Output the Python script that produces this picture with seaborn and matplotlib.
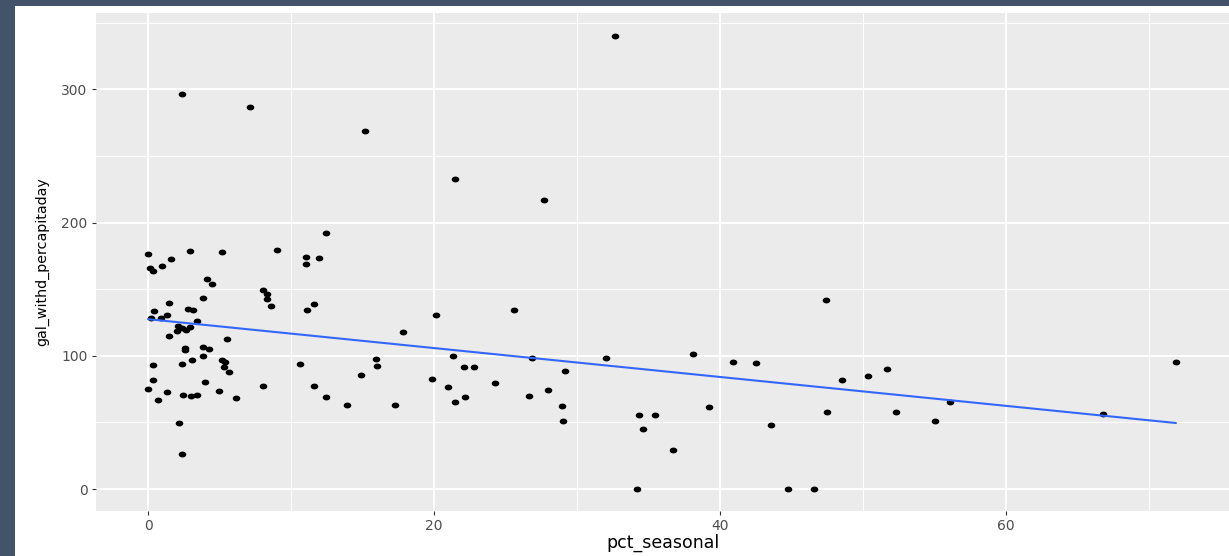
import matplotlib
matplotlib.use("Agg")
import matplotlib.pyplot as plt
from matplotlib.ticker import MultipleLocator
from matplotlib.patches import Rectangle
from matplotlib.path import Path
import numpy as np
import seaborn as sns
import pandas as pd

pct_seasonal = [
    0.0, 2.9, 5.2, 1.6, 0.14, 0.33, 0.98, 4.15, 4.5, 3.85, 1.49, 0.42, 2.78, 3.13,
    1.3, 0.89, 0.2, 3.43, 2.1, 2.36, 2.94, 2.0, 2.66, 1.49, 5.55, 2.59, 2.59, 3.83,
    4.29, 3.83, 3.1, 2.36, 0.33, 5.2, 5.38, 5.34, 5.64, 0.35, 3.96, 0.02, 1.3, 2.47,
    3.0, 3.45, 4.99, 0.68, 6.18, 2.14, 2.36, 2.36, 7.13, 15.2, 12.45, 9.02, 11.05,
    11.05, 11.98, 21.45, 8.06, 8.3, 8.3, 8.6, 11.59, 11.14, 20.16, 17.83, 21.33,
    22.08, 22.8, 15.92, 16.03, 10.63, 14.87, 19.84, 8.06, 11.59, 21.0, 12.43, 22.19,
    21.45, 13.9, 17.3, 25.57, 24.29, 26.83, 26.64, 28.0, 29.18, 28.97, 29.04, 32.05,
    38.13, 34.17, 34.34, 35.43, 34.6, 36.69, 39.25, 40.91, 42.54, 43.59, 44.73,
    46.55, 32.68, 27.69, 47.39, 48.55, 50.37, 51.66, 47.5, 52.29, 55.03, 56.08,
    66.8, 71.89,
]
gal_withd_percapitaday = [
    176.4, 178.7, 178.0, 172.4, 166.0, 163.7, 167.6, 158.0, 154.0, 143.6, 139.9,
    134.0, 134.9, 134.2, 130.4, 128.2, 128.2, 126.4, 122.4, 120.6, 121.4, 118.4,
    119.4, 114.9, 112.6, 106.0, 104.4, 106.4, 105.3, 99.8, 96.6, 93.6, 92.9, 96.6,
    95.1, 91.8, 87.8, 81.6, 80.1, 75.3, 72.8, 70.6, 69.8, 70.6, 73.6, 66.6, 68.1,
    49.8, 26.0, 296.3, 286.8, 268.5, 192.2, 179.4, 174.0, 169.1, 173.2, 232.7,
    149.2, 146.2, 142.9, 137.4, 138.9, 134.2, 130.9, 118.1, 99.8, 91.8, 91.8, 97.6,
    92.6, 93.6, 85.6, 82.4, 77.6, 77.6, 76.8, 68.8, 68.8, 65.5, 63.3, 63.3, 134.2,
    79.4, 98.3, 69.8, 74.3, 88.8, 62.5, 51.3, 98.3, 101.6, 0.0, 55.3, 55.3, 45.0,
    29.0, 61.8, 95.1, 94.4, 48.3, 0.0, 0.0, 340.0, 217.0, 142.1, 81.6, 84.8, 90.3,
    57.8, 57.8, 51.3, 65.1, 56.1, 95.1,
]
x_ticks = [0, 20, 40, 60]
y_ticks = [0, 100, 200, 300]

df = pd.DataFrame({"pct_seasonal": pct_seasonal,
                   "gal_withd_percapitaday": gal_withd_percapitaday})

sns.set_theme(style="white")
plt.rcParams["font.family"] = ["DejaVu Sans"]

W, H = 1229, 556
fig = plt.figure(figsize=(W / 100, H / 100), dpi=100)
fig.patch.set_facecolor("white")

# dark frame at top and left
border = "#435369"
fig.patches.append(Rectangle((0, 1 - 6 / H), 1, 6 / H, transform=fig.transFigure,
                             facecolor=border, edgecolor="none", zorder=0))
fig.patches.append(Rectangle((0, 0), 15 / W, 1, transform=fig.transFigure,
                             facecolor=border, edgecolor="none", zorder=0))

ax = fig.add_axes([96 / W, (H - 511) / H, (W - 96) / W, (511 - 13) / H])
ax.set_facecolor("#EBEBEB")

# slightly wide elliptical dot, as in the (horizontally stretched) reference
t = np.linspace(0, 2 * np.pi, 40)
ellipse = Path(np.column_stack([1.3 * np.cos(t), np.sin(t)]), closed=True)

sns.regplot(data=df, x="pct_seasonal", y="gal_withd_percapitaday", ax=ax, ci=None,
            marker=ellipse,
            scatter_kws=dict(s=30, color="black", linewidths=0, alpha=1, zorder=3),
            line_kws=dict(color="#3366FF", lw=1.5, zorder=4))

ax.set_xlim(-3.64, 75.6)
ax.set_ylim(-16.5, 357.4)
ax.set_xticks(x_ticks)
ax.set_yticks(y_ticks)
ax.xaxis.set_minor_locator(MultipleLocator(10))
ax.yaxis.set_minor_locator(MultipleLocator(50))
ax.grid(which="major", color="white", lw=1.4, zorder=0)
ax.grid(which="minor", color="white", lw=0.7, zorder=0)
ax.set_axisbelow(True)
for s in ax.spines.values():
    s.set_visible(False)
ax.tick_params(which="major", length=3, width=0.8, color="#333333",
               labelcolor="#4D4D4D", labelsize=10, pad=3,
               bottom=True, left=True)
ax.tick_params(which="minor", length=0)

ax.set_xlabel("pct_seasonal", fontsize=12.5, color="black")
ax.set_ylabel("gal_withd_percapitaday", fontsize=10.3, color="black")
ax.xaxis.label.set_va("center")
ax.yaxis.label.set_va("center")
ax.xaxis.set_label_coords(0.5, (511 - 543) / 498)
ax.yaxis.set_label_coords((42 - 96) / 1133, 0.5)

fig.savefig("out.png", dpi=100)
